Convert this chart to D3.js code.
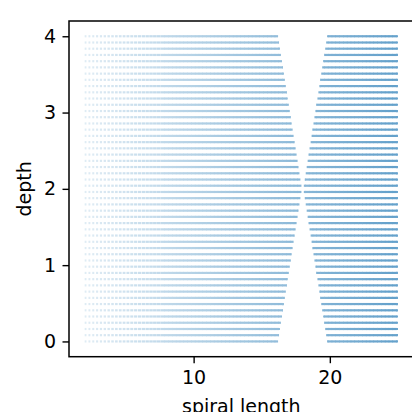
<!DOCTYPE html>
<html>
<head>
<meta charset="utf-8">
<script src="https://cdn.jsdelivr.net/npm/d3@7"></script>
<style>
  body { margin: 0; background: #fff; }
  text { font-family: "DejaVu Sans", sans-serif; }
</style>
</head>
<body>
<script>
// depth of each spiral row
var depths = [0, 0.082, 0.163, 0.245, 0.327, 0.408, 0.49, 0.571, 0.653, 0.735,
  0.816, 0.898, 0.98, 1.061, 1.143, 1.224, 1.306, 1.388, 1.469, 1.551,
  1.633, 1.714, 1.796, 1.878, 1.959, 2.041, 2.122, 2.204, 2.286, 2.367,
  2.449, 2.531, 2.612, 2.694, 2.776, 2.857, 2.939, 3.02, 3.102, 3.184,
  3.265, 3.347, 3.429, 3.51, 3.592, 3.673, 3.755, 3.837, 3.918, 4.0];

// where the gap in each row starts and ends (spiral length)
var gapStart = [16.20, 16.27, 16.34, 16.41, 16.49, 16.56, 16.63, 16.70, 16.77, 16.84,
  16.91, 16.99, 17.06, 17.13, 17.20, 17.27, 17.34, 17.41, 17.49, 17.56,
  17.63, 17.70, 17.77, 17.84, 17.91, 17.91, 17.84, 17.77, 17.70, 17.63,
  17.56, 17.49, 17.41, 17.34, 17.27, 17.20, 17.13, 17.06, 16.99, 16.91,
  16.84, 16.77, 16.70, 16.63, 16.56, 16.49, 16.41, 16.34, 16.27, 16.20];
var gapEnd = [19.80, 19.73, 19.66, 19.59, 19.51, 19.44, 19.37, 19.30, 19.23, 19.16,
  19.09, 19.01, 18.94, 18.87, 18.80, 18.73, 18.66, 18.59, 18.51, 18.44,
  18.37, 18.30, 18.23, 18.16, 18.09, 18.09, 18.16, 18.23, 18.30, 18.37,
  18.44, 18.51, 18.59, 18.66, 18.73, 18.80, 18.87, 18.94, 19.01, 19.09,
  19.16, 19.23, 19.30, 19.37, 19.44, 19.51, 19.59, 19.66, 19.73, 19.80];

var lengthStart = 2, lengthEnd = 25;
var xTicks = [10, 20];
var yTicks = [0, 1, 2, 3, 4];

var width = 412, height = 412;
var fontSize = "19px";
var svg = d3.select("body").append("svg")
    .attr("width", width)
    .attr("height", height);

var x = d3.scaleLinear().domain([0.85, 26.15]).range([69, 413.6]);
var y = d3.scaleLinear().domain([-0.2, 4.2]).range([356.7, 21]);

// colour fades from very light to C0-ish blue along the length
var alpha = d3.scaleLinear().domain([lengthStart, lengthEnd]).range([0.14, 0.7]);
var base = d3.rgb("#1f77b4");
function colorAt(v) {
    var a = alpha(v);
    return d3.rgb(255 - (255 - base.r) * a, 255 - (255 - base.g) * a, 255 - (255 - base.b) * a) + "";
}

var rows = depths.map(function (d, i) { return {depth: d, lo: gapStart[i], hi: gapEnd[i]}; });

var segs = [];
var step = 3.8;
var x0 = x(lengthStart);
rows.forEach(function (r) {
    for (var px = x0; px < x(lengthEnd); px += step) {
        var v = x.invert(px);
        var gap = Math.max(0, 2.0 * (1 - (px - x0) / 75));
        // once the dots close up, overlap a little so there are no seams
        var len = gap > 0 ? step - gap : step + 0.6;
        len = Math.min(len, x(lengthEnd) - px);
        var vEnd = x.invert(px + len);
        if (vEnd > r.lo && v < r.hi) {
            // clip against the gap
            if (v < r.lo) { segs.push({depth: r.depth, a: v, b: r.lo}); }
            if (vEnd > r.hi) { segs.push({depth: r.depth, a: r.hi, b: vEnd}); }
            continue;
        }
        segs.push({depth: r.depth, a: v, b: vEnd});
    }
});

svg.append("g")
    .selectAll("line")
    .data(segs)
    .enter().append("line")
    .attr("x1", function (d) { return x(d.a); })
    .attr("x2", function (d) { return x(d.b); })
    .attr("y1", function (d) { return y(d.depth); })
    .attr("y2", function (d) { return y(d.depth); })
    .style("stroke", function (d) { return colorAt((d.a + d.b) / 2); })
    .style("stroke-width", 2.2);

// axes
var xAxis = svg.append("g")
    .attr("transform", "translate(0," + y.range()[0] + ")")
    .call(d3.axisBottom(x).tickValues(xTicks).tickSize(6.5).tickPadding(7.5));
var yAxis = svg.append("g")
    .attr("transform", "translate(" + x.range()[0] + ",0)")
    .call(d3.axisLeft(y).tickValues(yTicks).tickSize(6.5).tickPadding(6.5).tickFormat(d3.format("d")));

[xAxis, yAxis].forEach(function (g) {
    g.select(".domain").remove();
    g.selectAll("line").style("stroke", "#000").style("stroke-width", 1.4);
    g.selectAll("text").style("font-size", fontSize).style("fill", "#000")
        .style("font-family", "DejaVu Sans");
});

// spines
svg.append("rect")
    .attr("x", x.range()[0])
    .attr("y", y.range()[1])
    .attr("width", x.range()[1] - x.range()[0])
    .attr("height", y.range()[0] - y.range()[1])
    .style("fill", "none")
    .style("stroke", "#000")
    .style("stroke-width", 1.5);

svg.append("text")
    .attr("x", (x.range()[0] + x.range()[1]) / 2)
    .attr("y", 412.5)
    .attr("text-anchor", "middle")
    .style("font-size", fontSize)
    .text("spiral length");

svg.append("text")
    .attr("transform", "translate(31," + (y.range()[0] + y.range()[1]) / 2 + ") rotate(-90)")
    .attr("text-anchor", "middle")
    .style("font-size", fontSize)
    .text("depth");
</script>
</body>
</html>
